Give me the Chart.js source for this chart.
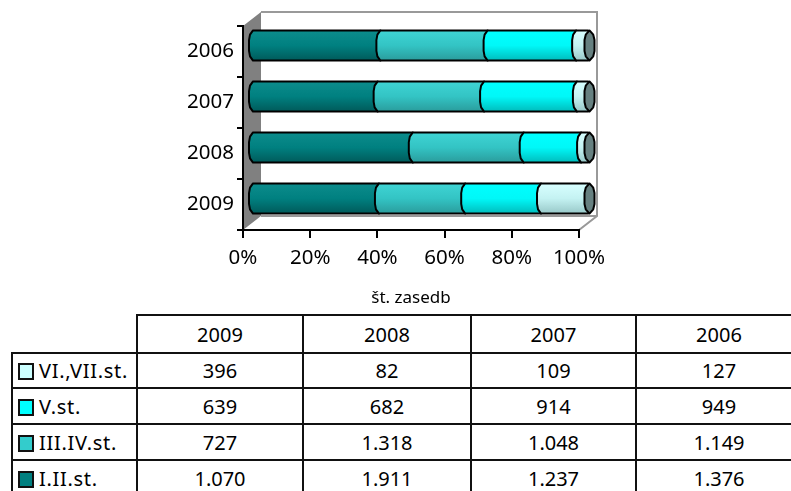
<!DOCTYPE html>
<html lang="sl">
<head>
  <meta charset="UTF-8" />
  <title>št. zasedb</title>
  <style>
    html, body { margin: 0; padding: 0; background: #fff; overflow: hidden; width: 791px; height: 491px; }
    #wrap { position: relative; width: 791px; height: 491px; overflow: hidden; }
    canvas { position: absolute; left: 0; top: 0; }
    table { position: absolute; left: 11px; top: 314px; width: 790px; border-collapse: collapse; table-layout: fixed; font: 20px "Noto Sans", sans-serif; color: #000; }
    td { border: 2px solid #111; text-align: center; padding: 0; height: 34px; white-space: nowrap; overflow: hidden; }
    tr:first-child td { height: 36px; }
    tr:nth-child(2) td { height: 33px; }
    td.blank { border-left: none; border-top: none; }
    td.name { text-align: left; padding-left: 5px; font-size: 20px; letter-spacing: 0.7px; }
    .swatch { display: inline-block; width: 12px; height: 13px; border: 2px solid #111; margin-right: 5px; vertical-align: -2px; }
  </style>
</head>
<body>
  <div id="wrap">
    <canvas id="chart" width="791" height="308"></canvas>
    <table id="tbl"></table>
  </div>

  <script src="https://cdn.jsdelivr.net/npm/chart.js"></script>
  <script>
    const years = ["2006", "2007", "2008", "2009"];
    const firstSecond = [1376, 1237, 1911, 1070];
    const thirdFourth = [1149, 1048, 1318, 727];
    const fifth = [949, 914, 682, 639];
    const sixthSeventh = [127, 109, 82, 396];
    const xTicks = [0, 20, 40, 60, 80, 100];

    const seriesNames = ["I.II.st.", "III.IV.st.", "V.st.", "VI.,VII.st."];
    const seriesValues = [firstSecond, thirdFourth, fifth, sixthSeventh];
    const seriesColors = ["#008080", "#33cccc", "#00ffff", "#ccffff"];
    // top, middle, bottom of the shaded cylinder
    const shades = [
      ["#0c8c8c", "#008080", "#005a5a"],
      ["#3fd4d4", "#33c4c4", "#2a9c9c"],
      ["#00ffff", "#00f8f8", "#00bcbc"],
      ["#d8ffff", "#c4f2f2", "#98c8c8"]
    ];
    const capColor = "#668080";
    const depthX = 18, depthY = 14;
    const barDX = 9, barDY = 6;

    const totals = years.map((y, i) => seriesValues.reduce((s, v) => s + v[i], 0));

    function endPath(ctx, x, top, h, dir, bulge) {
      // one octagon-like half of the cylinder's end, right side runs down, left side runs up
      const pts = [[0, 0], [0.75, 0.14], [1, 0.32], [1, 0.68], [0.75, 0.86], [0, 1]];
      const list = dir > 0 ? pts : pts.slice().reverse();
      list.forEach(p => ctx.lineTo(x + dir * bulge * p[0], top + p[1] * h));
    }

    const cage = {
      id: "cage",
      beforeDraw(chart) {
        const { ctx, chartArea: a } = chart;
        ctx.save();
        ctx.fillStyle = "#808080";
        ctx.beginPath();
        ctx.moveTo(a.left, a.top);
        ctx.lineTo(a.left + depthX, a.top - depthY);
        ctx.lineTo(a.left + depthX, a.bottom - depthY);
        ctx.lineTo(a.left, a.bottom);
        ctx.closePath();
        ctx.fill();
        ctx.strokeStyle = "#999999";
        ctx.lineWidth = 2;
        ctx.beginPath();
        ctx.moveTo(a.left + depthX, a.top - depthY);
        ctx.lineTo(a.right + depthX, a.top - depthY);
        ctx.lineTo(a.right + depthX, a.bottom - depthY);
        ctx.lineTo(a.right, a.bottom);
        ctx.moveTo(a.right + depthX, a.bottom - depthY);
        ctx.lineTo(a.left + depthX, a.bottom - depthY);
        ctx.stroke();
        ctx.restore();
      }
    };

    const cylinders = {
      id: "cylinders",
      beforeDatasetsDraw(chart) {
        const ctx = chart.ctx;
        ctx.save();
        ctx.translate(barDX, -barDY);
        ctx.lineWidth = 2;
        ctx.strokeStyle = "#000";
        ctx.lineJoin = "round";
        chart.data.datasets.forEach((ds, d) => {
          chart.getDatasetMeta(d).data.forEach(bar => {
            const h = bar.height, top = bar.y - h / 2;
            const g = ctx.createLinearGradient(0, top, 0, top + h);
            g.addColorStop(0, shades[d][0]);
            g.addColorStop(0.5, shades[d][1]);
            g.addColorStop(1, shades[d][2]);
            ctx.fillStyle = g;
            ctx.beginPath();
            ctx.moveTo(bar.base, top);
            ctx.lineTo(bar.x, top);
            endPath(ctx, bar.x, top, h, 1, 4);
            ctx.lineTo(bar.base, top + h);
            endPath(ctx, bar.base, top, h, -1, 4);
            ctx.closePath();
            ctx.fill();
            ctx.stroke();
          });
        });
        // dark end cap on the 100% side
        const last = chart.getDatasetMeta(chart.data.datasets.length - 1).data;
        last.forEach(bar => {
          const h = bar.height, top = bar.y - h / 2;
          ctx.fillStyle = capColor;
          ctx.beginPath();
          ctx.moveTo(bar.x + 1.5, top);
          endPath(ctx, bar.x + 1.5, top, h, 1, 5);
          endPath(ctx, bar.x + 1.5, top, h, -1, 5);
          ctx.closePath();
          ctx.fill();
          ctx.stroke();
        });
        ctx.restore();
        return false;
      }
    };

    Chart.defaults.font.family = '"Noto Sans", sans-serif';
    Chart.defaults.color = "#000";

    new Chart(document.getElementById("chart"), {
      type: "bar",
      data: {
        labels: years,
        datasets: seriesNames.map((name, d) => ({
          label: name,
          data: seriesValues[d].map((v, i) => v / totals[i] * 100),
          backgroundColor: seriesColors[d],
          barPercentage: 0.59,
          categoryPercentage: 1
        }))
      },
      options: {
        indexAxis: "y",
        responsive: false,
        animation: false,
        layout: { padding: { left: 0, right: 212, top: 26, bottom: 0 } },
        plugins: { legend: { display: false }, tooltip: { enabled: false } },
        scales: {
          x: {
            stacked: true,
            min: 0,
            max: 100,
            afterBuildTicks(axis) { axis.ticks = xTicks.map(v => ({ value: v })); },
            afterFit(axis) { axis.height = 78; },
            grid: { drawOnChartArea: false, color: "#000", lineWidth: 2, tickLength: 8 },
            border: { color: "#000", width: 2 },
            ticks: { maxRotation: 0, padding: 8, font: { size: 20.5 }, callback: v => v + "%" },
            title: { display: true, text: "št. zasedb", font: { size: 17 }, padding: 0 }
          },
          y: {
            stacked: true,
            afterFit(axis) { axis.width = 243; },
            grid: { drawOnChartArea: false, color: "#000", lineWidth: 2, tickLength: 6 },
            border: { color: "#000", width: 2 },
            ticks: { padding: 3, font: { size: 20.5 } }
          }
        }
      },
      plugins: [cage, cylinders]
    });

    function fmt(v) {
      return String(v).replace(/\B(?=(\d{3})+$)/g, ".");
    }

    const tableYears = years.slice().reverse();
    let html = '<colgroup><col style="width:125px"><col style="width:166px"><col style="width:168px"><col style="width:165px"><col style="width:166px"></colgroup>';
    html += '<tr><td class="blank"></td>' + tableYears.map(y => `<td>${y}</td>`).join("") + "</tr>";
    for (let d = seriesNames.length - 1; d >= 0; d--) {
      const cells = tableYears.map(y => `<td>${fmt(seriesValues[d][years.indexOf(y)])}</td>`).join("");
      html += `<tr><td class="name"><span class="swatch" style="background:${seriesColors[d]}"></span>${seriesNames[d]}</td>${cells}</tr>`;
    }
    document.getElementById("tbl").innerHTML = html;
  </script>
</body>
</html>
